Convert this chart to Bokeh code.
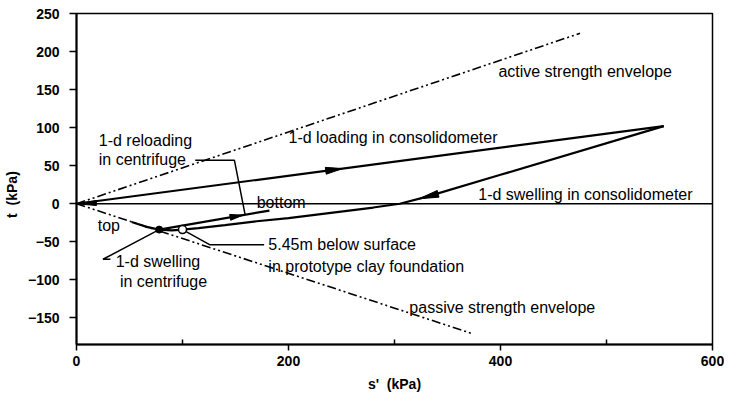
import numpy as np
from bokeh.plotting import figure
from bokeh.models import Range1d, FixedTicker, ColumnDataSource
from bokeh.core.properties import value
from bokeh.embed import file_html
from bokeh.resources import INLINE

# ---------------- data (s' kPa, t kPa) ----------------
loading_s = [0, 554]
loading_t = [0, 102]
swell_cons_s = [554, 400, 330, 305, 280, 240, 200, 170, 140, 115, 100]
swell_cons_t = [102, 38, 9, 0, -5, -12, -19, -23, -28, -32, -34]
swell_cent_s = [100, 90, 78, 65, 52]
swell_cent_t = [-34, -35, -34, -30, -24]
reload_s = [78, 182]
reload_t = [-34, -9]
active_s = [0, 475]
active_t = [0, 224]
passive_s = [0, 374]
passive_t = [0, -171]
filled_pt_s = [78]
filled_pt_t = [-34]
open_pt_s = [100]
open_pt_t = [-34]
x_ticks = [0, 200, 400, 600]
x_minor = [100, 300, 500]
y_ticks = [-150, -100, -50, 0, 50, 100, 150, 200, 250]

# annotation texts and anchor points (data units)
label_text = ["1-d reloading", "in centrifuge", "1-d loading in consolidometer",
              "active strength envelope", "1-d swelling in consolidometer", "top",
              "5.45m below surface", "in prototype clay foundation", "1-d swelling",
              "in centrifuge", "passive strength envelope"]
label_s = [21, 21, 200, 398, 379, 20, 181, 181, 37, 41, 314]
label_t = [83, 58, 87, 174, 12, -28, -54, -83, -76, -102, -137]

lead_reload_s = [112, 149, 159]
lead_reload_t = [57, 57, -14]
lead_swell_s = [78, 25, 32]
lead_swell_t = [-34, -73, -73]
lead_open_s = [100, 126, 177]
lead_open_t = [-34, -54, -54]

# ---------------- figure ----------------
W, H = 724, 394
ML, MR, MT, MB = 73, 12, 13, 45
X0, X1, Y0, Y1 = 0, 600, -185, 250
SX = (W - ML - MR) / (X1 - X0)
SY = (H - MT - MB) / (Y1 - Y0)

p = figure(width=W, height=H, x_range=Range1d(X0, X1), y_range=Range1d(Y0, Y1),
           output_backend="svg", toolbar_location=None,
           min_border_left=ML, min_border_right=MR, min_border_top=MT, min_border_bottom=MB)
p.grid.visible = False
p.outline_line_color = "black"
p.outline_line_width = 1.5
p.background_fill_color = "white"
p.border_fill_color = "white"

for ax in (p.xaxis[0], p.yaxis[0]):
    ax.axis_line_color = "black"
    ax.axis_line_width = 2
    ax.major_tick_line_color = "black"
    ax.major_tick_line_width = 1.5
    ax.minor_tick_line_color = "black"
    ax.minor_tick_line_width = 1.5
    ax.major_label_text_font = "Liberation Sans"
    ax.major_label_text_font_style = "bold"
    ax.major_label_text_font_size = "14px"
    ax.major_label_text_color = "black"
    ax.axis_label_text_font = "Liberation Sans"
    ax.axis_label_text_font_style = "bold"
    ax.axis_label_text_font_size = "14px"
    ax.axis_label_text_color = "black"

p.xaxis.ticker = FixedTicker(ticks=x_ticks, minor_ticks=x_minor)
p.xaxis.major_tick_in = 0
p.xaxis.major_tick_out = 6
p.xaxis.minor_tick_in = 5
p.xaxis.minor_tick_out = 0
p.xaxis.major_label_standoff = 5
p.xaxis.axis_label = "s'\u00a0 (kPa)"
p.xaxis.axis_label_standoff = 7

p.yaxis.ticker = FixedTicker(ticks=y_ticks, minor_ticks=[])
p.yaxis.major_tick_in = 0
p.yaxis.major_tick_out = 7
p.yaxis.major_label_standoff = 10
p.yaxis.axis_label = "t\u00a0 (kPa)" + "\u00a0" * 8
p.yaxis.axis_label_standoff = 5

DASH = "9 3 2 3 2 3"

# zero line
p.line([X0, X1], [0, 0], line_color="black", line_width=1.5)
# envelopes
p.line(active_s, active_t, line_color="black", line_width=1.6, line_dash=DASH)
p.line(passive_s, passive_t, line_color="black", line_width=1.6, line_dash=DASH)
# stress paths
p.line(loading_s, loading_t, line_color="black", line_width=2.2)
p.line(swell_cons_s, swell_cons_t, line_color="black", line_width=2.2)
p.line(swell_cent_s, swell_cent_t, line_color="black", line_width=2.2)
p.line(reload_s, reload_t, line_color="black", line_width=2.2)
# leaders
for ls, lt in ((lead_reload_s, lead_reload_t), (lead_swell_s, lead_swell_t), (lead_open_s, lead_open_t)):
    p.line(ls, lt, line_color="black", line_width=1.5)


def arrow_tri(path_s, path_t, tip_s, forward, length_px, half_px):
    s = np.array(path_s, float)
    t = np.array(path_t, float)
    o = np.argsort(s)
    f = lambda v: float(np.interp(v, s[o], t[o]))
    tip_t = f(tip_s)
    dx = 2.0 * SX
    dy = (f(tip_s + 1) - f(tip_s - 1)) * SY
    n = np.hypot(dx, dy)
    ux, uy = dx / n, dy / n
    if not forward:
        ux, uy = -ux, -uy
    bx, by = -ux * length_px, -uy * length_px
    nx, ny = -uy * half_px, ux * half_px
    xs = [tip_s, tip_s + (bx + nx) / SX, tip_s + (bx - nx) / SX]
    ys = [tip_t, tip_t + (by + ny) / SY, tip_t + (by - ny) / SY]
    return xs, ys


arrows = [
    arrow_tri(loading_s, loading_t, 251, True, 17, 3.5),
    arrow_tri(swell_cons_s, swell_cons_t, 323, False, 20, 3.5),
    arrow_tri(reload_s, reload_t, 157, True, 13, 3),
]
p.patches([a[0] for a in arrows], [a[1] for a in arrows], fill_color="black", line_color="black")

# wedge at the origin
ox, oy = arrow_tri(loading_s, [t / 2 for t in loading_t], 0, False, 20, 2.5)
p.patch(ox, oy, fill_color="black", line_color="black")

# points
p.scatter(filled_pt_s, filled_pt_t, size=7, fill_color="black", line_color="black")
p.scatter(open_pt_s, open_pt_t, size=8, fill_color="white", line_color="black", line_width=1.5)

# annotation texts
src = ColumnDataSource(dict(x=label_s, y=label_t, text=label_text))
p.text(x="x", y="y", text="text", source=src, text_font=value("Liberation Sans"),
       text_font_size="16px", text_baseline="middle", text_align="left", text_color="black")
p.text(x=[170], y=[1.5], text=["bottom"], text_font=value("Liberation Sans"),
       text_font_size="16px", text_baseline="alphabetic", text_align="left", text_color="black")

open("out.html", "w").write(file_html(p, INLINE))
